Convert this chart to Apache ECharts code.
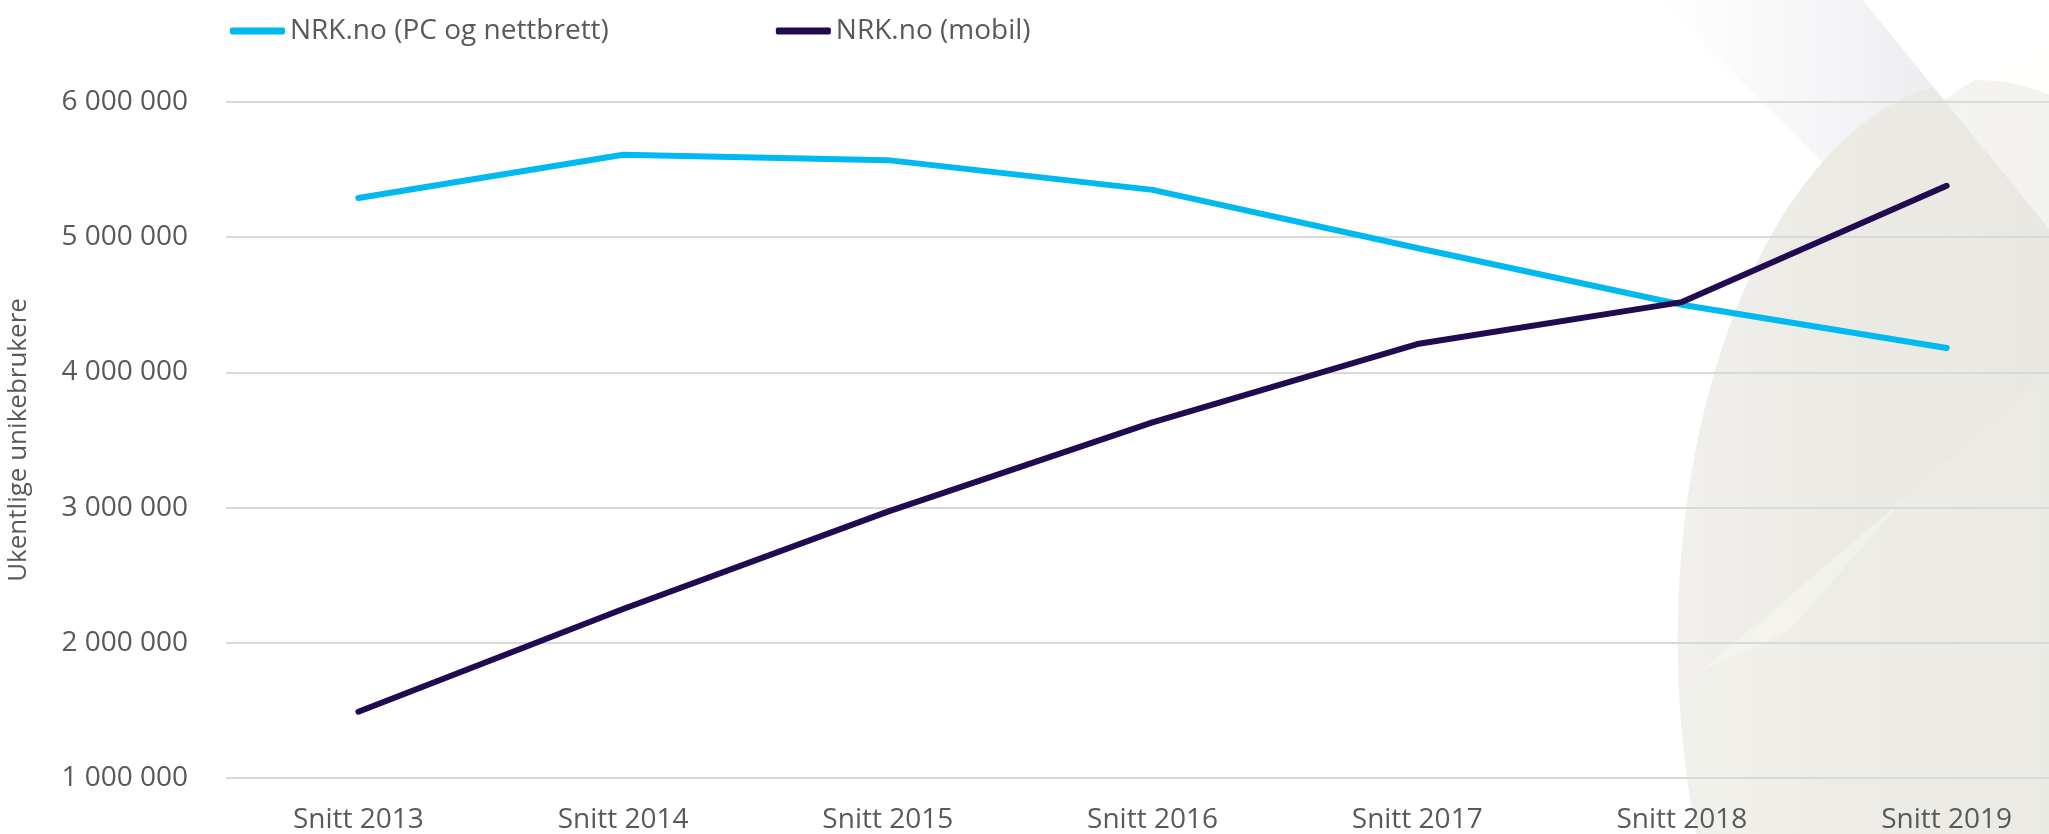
<!DOCTYPE html>
<html>
<head>
<meta charset="utf-8">
<script src="https://cdn.jsdelivr.net/npm/echarts@6/dist/echarts.min.js"></script>
<style>
  html, body { margin: 0; padding: 0; background: #fff; }
  #chart { width: 2049px; height: 834px; }
</style>
</head>
<body>
<div id="chart"></div>
<script>
const categories = ['Snitt 2013', 'Snitt 2014', 'Snitt 2015', 'Snitt 2016', 'Snitt 2017', 'Snitt 2018', 'Snitt 2019'];
const pcTablet = [5290000, 5610000, 5570000, 5350000, 4920000, 4500000, 4180000];
const mobile = [1490000, 2250000, 2970000, 3630000, 4210000, 4520000, 5380000];
const seriesNames = ['NRK.no (PC og nettbrett)', 'NRK.no (mobil)'];
const yTitle = 'Ukentlige unikebrukere';

const font = 'Open Sans';
const textColor = '#595959';

const chart = echarts.init(document.getElementById('chart'));

// soft grey shapes behind the plot on the right side
const decor = [
  {
    type: 'polygon', z: -100, silent: true,
    shape: { points: [[1660, 0], [1863, 0], [2049, 229], [2049, 270], [1820, 160]] },
    style: {
      fill: new echarts.graphic.LinearGradient(0, 0, 1, 0, [
        { offset: 0, color: 'rgba(236,234,238,0)' },
        { offset: 0.6, color: 'rgba(230,228,233,0.6)' },
        { offset: 1, color: 'rgba(226,224,229,0.9)' }
      ])
    }
  },
  {
    type: 'circle', z: -99, silent: true,
    x: 1980, y: 640, scaleX: 0.54, scaleY: 1,
    shape: { cx: 0, cy: 0, r: 560 },
    style: {
      fill: new echarts.graphic.LinearGradient(0, 0, 1, 0, [
        { offset: 0, color: '#f1f0ec' },
        { offset: 0.25, color: '#ebeae5' },
        { offset: 1, color: '#e6e5e0' }
      ])
    }
  },
  {
    type: 'polygon', z: -98, silent: true,
    shape: { points: [[1944, 100], [2049, 32], [2049, 229]] },
    style: { fill: 'rgba(255,255,252,0.45)' }
  },
  {
    type: 'polygon', z: -98, silent: true,
    shape: { points: [[1863, 0], [2049, 0], [2049, 32], [1944, 100]] },
    style: { fill: '#ffffff' }
  },
  {
    type: 'polygon', z: -98, silent: true,
    shape: { points: [[1690, 690], [1905, 498], [2049, 372], [2049, 834], [1700, 834]] },
    style: { fill: 'rgba(255,255,250,0.12)' }
  },
  {
    type: 'polygon', z: -97, silent: true,
    shape: { points: [[1700, 672], [1905, 498], [1790, 630]] },
    style: { fill: 'rgba(255,255,250,0.3)' }
  }
];

chart.setOption({
  animation: false,
  backgroundColor: '#ffffff',
  graphic: decor,
  legend: {
    data: seriesNames,
    left: 225,
    top: 12,
    icon: 'roundRect',
    itemWidth: 55,
    itemHeight: 7,
    itemGap: 167,
    textStyle: { fontFamily: font, fontSize: 28, color: textColor }
  },
  grid: {
    left: 226,
    top: 102,
    width: 1853,
    height: 676,
    outerBoundsMode: 'none'
  },
  xAxis: {
    type: 'category',
    data: categories,
    boundaryGap: true,
    axisLine: { show: false },
    axisTick: { show: false },
    axisLabel: { fontFamily: font, fontSize: 28, color: textColor, margin: 28 }
  },
  yAxis: {
    type: 'value',
    min: 1000000,
    max: 6000000,
    interval: 1000000,
    name: yTitle,
    nameLocation: 'middle',
    nameRotate: 90,
    nameGap: 194,
    nameTextStyle: { fontFamily: font, fontSize: 26, color: textColor },
    axisLine: { show: false },
    axisTick: { show: false },
    splitLine: { lineStyle: { color: '#d9d9d9', width: 2 } },
    axisLabel: {
      fontFamily: font, fontSize: 28, color: textColor, margin: 38,
      formatter: (v) => String(v).replace(/\B(?=(\d{3})+(?!\d))/g, ' ')
    }
  },
  series: [
    {
      name: seriesNames[0],
      type: 'line',
      data: pcTablet,
      showSymbol: false,
      symbol: 'none',
      itemStyle: { color: '#00b9f1' },
      lineStyle: { color: '#00b9f1', width: 6, cap: 'round', join: 'round' }
    },
    {
      name: seriesNames[1],
      type: 'line',
      data: mobile,
      showSymbol: false,
      symbol: 'none',
      itemStyle: { color: '#220a50' },
      lineStyle: { color: '#220a50', width: 6, cap: 'round', join: 'round' }
    }
  ]
});
</script>
</body>
</html>
